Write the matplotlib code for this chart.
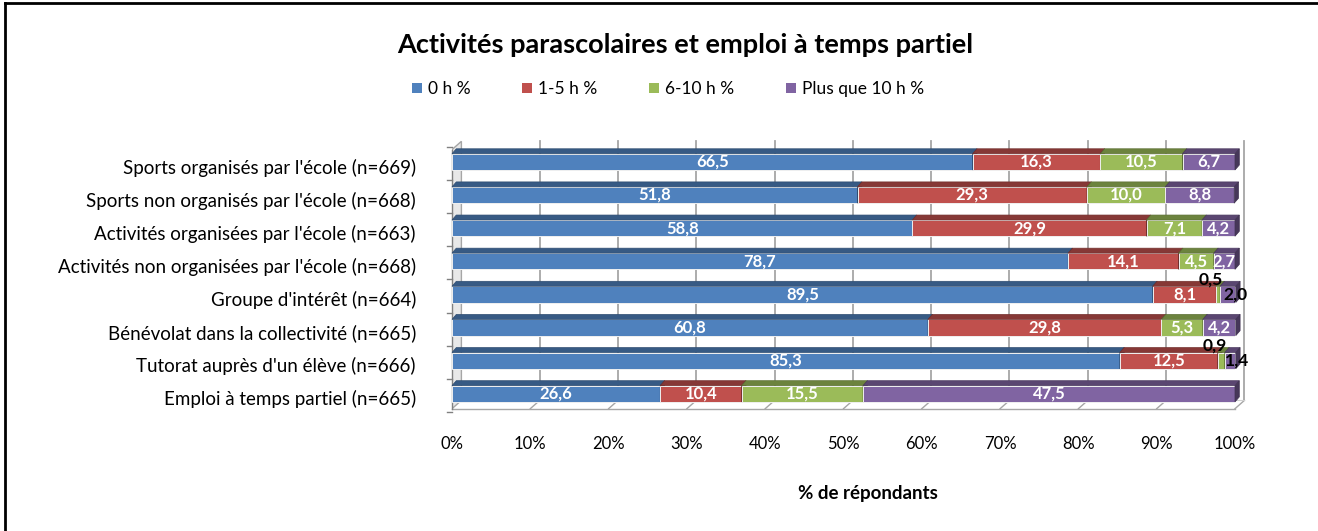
import numpy as np
import matplotlib.pyplot as plt
from matplotlib.patches import Polygon, Rectangle
from matplotlib.lines import Line2D
import matplotlib.colors as mcolors

plt.rcParams['font.family'] = ['Lato', 'DejaVu Sans']

categories = [
    "Sports organisés par l'école (n=669)",
    "Sports non organisés par l'école (n=668)",
    "Activités organisées par l'école (n=663)",
    "Activités non organisées par l'école (n=668)",
    "Groupe d'intérêt (n=664)",
    "Bénévolat dans la collectivité (n=665)",
    "Tutorat auprès d'un élève (n=666)",
    "Emploi à temps partiel (n=665)",
]
series_names = ["0 h %", "1-5 h %", "6-10 h %", "Plus que 10 h %"]
h0 = [66.5, 51.8, 58.8, 78.7, 89.5, 60.8, 85.3, 26.6]
h1_5 = [16.3, 29.3, 29.9, 14.1, 8.1, 29.8, 12.5, 10.4]
h6_10 = [10.5, 10.0, 7.1, 4.5, 0.5, 5.3, 0.9, 15.5]
h10p = [6.7, 8.8, 4.2, 2.7, 2.0, 4.2, 1.4, 47.5]
colors = ["#4F81BD", "#C0504D", "#9BBB59", "#8064A2"]

series = [h0, h1_5, h6_10, h10p]
n = len(categories)

W, H = 1318, 531
fig = plt.figure(figsize=(W / 100, H / 100), dpi=100)
ax = fig.add_axes([452 / W, (H - 412) / H, 783 / W, (412 - 140) / H])
ax.set_xlim(0, 100)
ax.set_ylim(7.55, -0.66)
ax.axis('off')

dx, dy = 0.55, 0.15     # bar depth
wx, wy = 1.2, 0.25      # back wall depth
bh = 0.49


def darker(c, f):
    r, g, b = mcolors.to_rgb(c)
    return (r * f, g * f, b * f)


# back wall / floor
top_y, floor_y = -0.62, 7.45
for v in range(10, 101, 10):
    ax.plot([v + wx, v + wx], [top_y, floor_y - wy], color="#A6A6A6", lw=1.3, zorder=1, clip_on=False)
    ax.plot([v, v + wx], [floor_y, floor_y - wy], color="#A6A6A6", lw=1.0, zorder=1, clip_on=False)
ax.add_patch(Polygon([[0, top_y + wy], [wx, top_y], [wx, floor_y - wy], [0, floor_y]],
                     closed=True, fc="#E8E8E8", ec="#A6A6A6", lw=1, zorder=1))
ax.plot([0, 100], [floor_y, floor_y], color="#A6A6A6", lw=1.0, zorder=1, clip_on=False)
ax.plot([wx, 100 + wx], [floor_y - wy, floor_y - wy], color="#D0D0D0", lw=0.8, zorder=1, clip_on=False)
for i in range(n + 1):
    yy = i - 0.5
    ax.plot([-0.6, 0], [yy + 0.05, yy + 0.05], color="#808080", lw=1, zorder=1, clip_on=False)
ax.plot([0, 0], [top_y + wy, floor_y], color="#808080", lw=1, zorder=1, clip_on=False)

# bars
for i in range(n):
    left = 0.0
    for k, s in enumerate(series):
        w = s[i]
        c = colors[k]
        ax.add_patch(Rectangle((left, i - bh / 2), w, bh, fc=c, ec="#F0F0F0", lw=0.7, zorder=3))
        ax.add_patch(Polygon([[left, i - bh / 2], [left + dx, i - bh / 2 - dy],
                              [left + w + dx, i - bh / 2 - dy], [left + w, i - bh / 2]],
                             closed=True, fc=darker(c, 0.7), ec=darker(c, 0.6), lw=0.5, zorder=3, clip_on=False))
        ax.add_patch(Polygon([[left + w, i - bh / 2], [left + w + dx, i - bh / 2 - dy],
                              [left + w + dx, i + bh / 2 - dy], [left + w, i + bh / 2]],
                             closed=True, fc=darker(c, 0.55), ec=darker(c, 0.5), lw=0.5, zorder=3, clip_on=False))
        lbl = f"{w:.1f}".replace(".", ",")
        if w >= 2.5:
            ax.text(left + w / 2, i, lbl, ha="center", va="center", color="white",
                    fontsize=12, fontweight="bold", zorder=5)
        elif k == 2:
            ax.text(left + w / 2 - 0.9, i - 0.45, lbl, ha="center", va="center", color="black",
                    fontsize=12.5, fontweight="bold", zorder=5, clip_on=False)
        else:
            ax.text(left + w / 2 + 0.9, i, lbl, ha="center", va="center", color="black",
                    fontsize=12.5, fontweight="bold", zorder=5, clip_on=False)
        left += w

# category labels
for i, c in enumerate(categories):
    ax.text(-4.6, i + 0.17, c, ha="right", va="center", fontsize=13.5, clip_on=False)

# x tick labels
for v in range(0, 101, 10):
    ax.text(v, 8.52, f"{v}%", ha="center", va="center", fontsize=12, clip_on=False)

fig.text(868 / W, 1 - 493 / H, "% de répondants", ha="center", va="center",
         fontsize=13.5, fontweight="bold")
fig.text(685 / W, 1 - 45 / H, "Activités parascolaires et emploi à temps partiel",
         ha="center", va="center", fontsize=19.5, fontweight="bold")

handles = [Rectangle((0, 0), 1, 1, fc=c) for c in colors]
fig.legend(handles, series_names, loc="center", bbox_to_anchor=(668 / W, 1 - 89 / H),
           ncol=4, frameon=False, fontsize=12.5, handlelength=0.55, handleheight=0.55,
           handletextpad=0.35, columnspacing=3.0)

# chart border (left and top only visible)
fig.add_artist(Line2D([5 / W, 5 / W], [0, 1 - 3 / H], transform=fig.transFigure, color="black", lw=2))
fig.add_artist(Line2D([5 / W, 1], [1 - 3 / H, 1 - 3 / H], transform=fig.transFigure, color="black", lw=2))

fig.savefig("out.png", dpi=100)
